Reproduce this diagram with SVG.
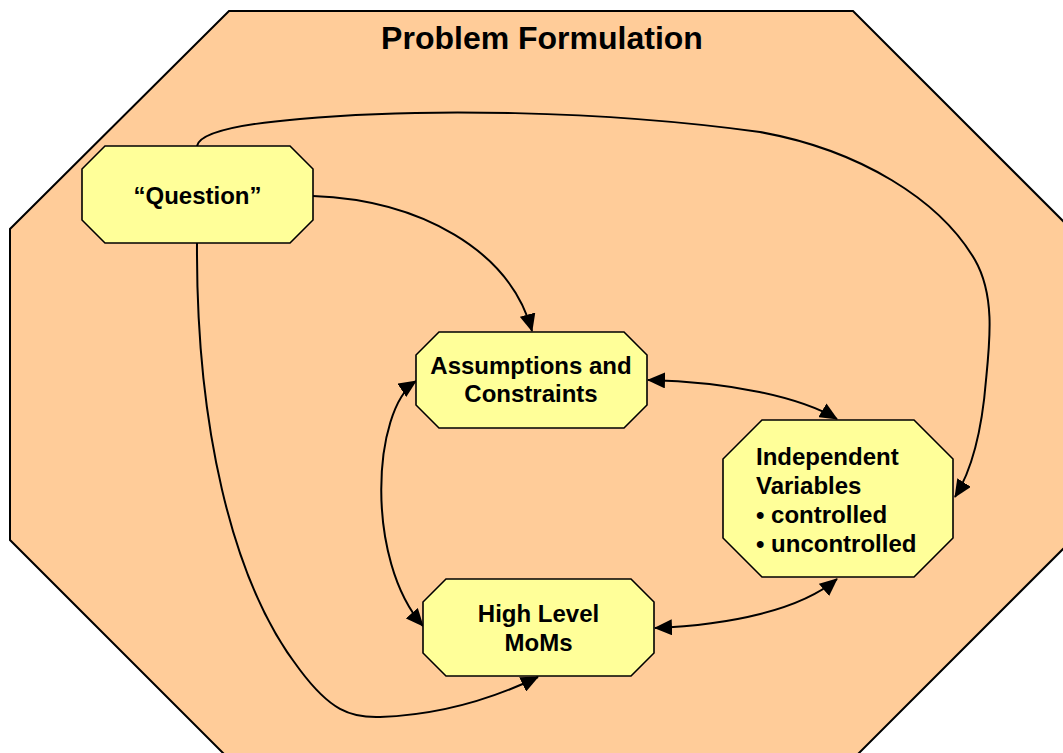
<svg xmlns="http://www.w3.org/2000/svg" width="1063" height="753" viewBox="0 0 1063 753">
<style>
.frame{fill:#FFCC99;stroke:#000;stroke-width:2}
.node{fill:#FFFF99;stroke:#000;stroke-width:1.6}
.t{font-family:"Liberation Sans",Arial,sans-serif;font-weight:bold;fill:#000}
.c{fill:none;stroke:#000;stroke-width:2}
</style>
<defs>
<marker id="ah" markerUnits="userSpaceOnUse" markerWidth="18" markerHeight="16" refX="17" refY="8" orient="auto-start-reverse" viewBox="0 0 18 16">
<path d="M0,0 L18,8 L0,16 z" fill="#000"/>
</marker>
</defs>
<g id="frame">
<polygon class="frame" points="229,11 853,11 1072,230 1072,540 853,759 229,759 10,540 10,229"/>
<text class="t" x="542" y="49" font-size="32" text-anchor="middle">Problem Formulation</text>
</g>
<g id="connectors">
<path class="c" marker-end="url(#ah)" d="M197,146 C200,132 240,124 300,119 C420,108 600,110 760,132 C860,150 940,200 975,260 C995,295 990,340 986,380 C982,430 972,470 955,497"/>
<path class="c" marker-end="url(#ah)" d="M313,196 C420,200 510,250 532,331"/>
<path class="c" marker-end="url(#ah)" d="M197,243 C196,420 230,580 300,670 C330,710 350,718 380,717 C440,715 490,700 538,677"/>
<path class="c" marker-start="url(#ah)" marker-end="url(#ah)" d="M648,380 C730,382 800,397 837,419"/>
<path class="c" marker-start="url(#ah)" marker-end="url(#ah)" d="M416,381 C372,410 365,560 423,626"/>
<path class="c" marker-start="url(#ah)" marker-end="url(#ah)" d="M655,628 C730,625 800,610 837,579"/>
</g>
<g id="question">
<polygon class="node" points="105,146 290,146 313,169 313,220 290,243 105,243 82,220 82,169"/>
<text class="t" x="197.5" y="204" font-size="24" text-anchor="middle">“Question”</text>
</g>
<g id="assumptions">
<polygon class="node" points="439,332 624,332 647,355 647,405 624,428 439,428 416,405 416,355"/>
<text class="t" x="531" y="374" font-size="24" text-anchor="middle">Assumptions and</text>
<text class="t" x="531" y="402" font-size="24" text-anchor="middle">Constraints</text>
</g>
<g id="independent">
<polygon class="node" points="762,420 914,420 953,459 953,538 914,577 762,577 723,538 723,459"/>
<text class="t" x="756" y="465" font-size="24">Independent</text>
<text class="t" x="756" y="494" font-size="24">Variables</text>
<text class="t" x="756" y="523" font-size="24">• controlled</text>
<text class="t" x="756" y="552" font-size="24">• uncontrolled</text>
</g>
<g id="highlevel">
<polygon class="node" points="446,579 631,579 654,602 654,653 631,676 446,676 423,653 423,602"/>
<text class="t" x="538.5" y="622" font-size="24" text-anchor="middle">High Level</text>
<text class="t" x="538.5" y="651" font-size="24" text-anchor="middle">MoMs</text>
</g>
</svg>
